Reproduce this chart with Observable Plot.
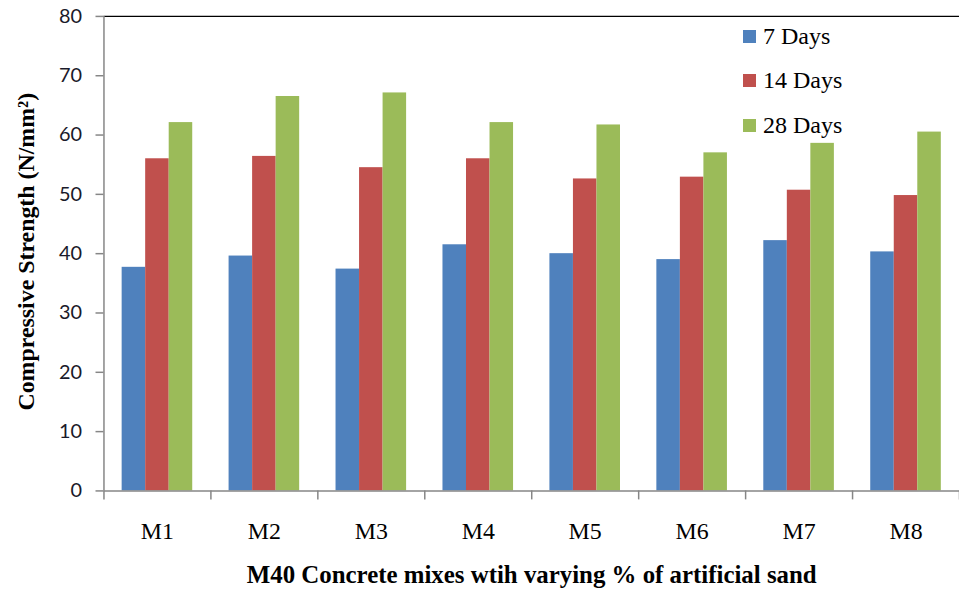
<!DOCTYPE html>
<html>
<head>
<meta charset="utf-8">
<script src="https://cdn.jsdelivr.net/npm/d3@7"></script>
<script src="https://cdn.jsdelivr.net/npm/@observablehq/plot@0.6"></script>
<style>
html, body { margin: 0; padding: 0; background: #fff; overflow: hidden; width: 959px; height: 592px; }
#wrap { position: relative; width: 959px; height: 592px; overflow: hidden; }
#wrap svg { display: block; }
#legend { position: absolute; left: 743px; top: 14px; font-family: "Liberation Serif", "Times New Roman", serif; font-size: 24px; color: #000; }
#legend .row { display: flex; align-items: center; height: 44.5px; }
#legend .sw { width: 13px; height: 13px; margin-right: 7px; flex: none; }
</style>
</head>
<body>
<div id="wrap"></div>
<script>
// ---- data ----
const categories = ["M1", "M2", "M3", "M4", "M5", "M6", "M7", "M8"];
const series = ["7 Days", "14 Days", "28 Days"];
const days7  = [37.7, 39.6, 37.4, 41.5, 40.0, 39.0, 42.2, 40.3];
const days14 = [56.0, 56.4, 54.5, 56.0, 52.6, 52.9, 50.7, 49.8];
const days28 = [62.1, 66.5, 67.1, 62.1, 61.7, 57.0, 58.6, 60.5];
const colors = ["#4F81BD", "#C0504D", "#9BBB59"];
const yTicks = [0, 10, 20, 30, 40, 50, 60, 70, 80];
const yTitle = "Compressive Strength (N/mm²)";
const xTitle = "M40 Concrete mixes wtih varying % of artificial sand";

// ---- table ----
const values = [days7, days14, days28];
const rows = [];
categories.forEach((c, i) => series.forEach((s, k) => rows.push({ cat: c, i, s, k, v: values[k][i] })));

const gap = 0.34;                 // share of each category slot left empty
const barW = (1 - gap) / series.length;
const boundaries = d3.range(categories.length + 1);
const axisGrey = "#868686";
const serif = "'Liberation Serif', 'Times New Roman', serif";

const plot = Plot.plot({
  width: 964,
  height: 592,
  marginLeft: 104,
  marginRight: 0,
  marginTop: 16,
  marginBottom: 99,
  x: { type: "linear", domain: [0, categories.length], axis: null },
  y: { domain: [0, 80], axis: null },
  color: { domain: series, range: colors },
  style: { background: "#fff", overflow: "visible" },
  marks: [
    Plot.rectY(rows, {
      x1: d => d.i + gap / 2 + d.k * barW,
      x2: d => d.i + gap / 2 + (d.k + 1) * barW,
      y1: 0,
      y2: "v",
      fill: "s"
    }),
    Plot.ruleY([80], { stroke: "#000", strokeWidth: 1.2 }),
    Plot.ruleY([0], { stroke: axisGrey, strokeWidth: 1.5 }),
    Plot.ruleX([0], { stroke: axisGrey, strokeWidth: 1.5 }),
    Plot.axisY({
      ticks: yTicks,
      tickSize: 8,
      tickPadding: 14,
      stroke: axisGrey,
      strokeWidth: 1.5,
      fill: "#1a1a2a",
      fontFamily: "Lato, 'Liberation Sans', sans-serif",
      fontSize: 20,
      label: null
    }),
    Plot.axisX({
      ticks: boundaries,
      tickSize: 9,
      tickFormat: () => "",
      stroke: axisGrey,
      strokeWidth: 1.5,
      label: null
    }),
    Plot.text(categories, {
      x: (d, i) => i + 0.5,
      y: 0,
      text: d => d,
      dy: 41,
      lineAnchor: "middle",
      fontFamily: serif,
      fontSize: 24,
      fill: "#000"
    }),
    Plot.text([yTitle], {
      frameAnchor: "left",
      textAnchor: "middle",
      lineAnchor: "middle",
      text: d => d,
      rotate: -90,
      dx: -78,
      dy: -2,
      fontFamily: serif,
      fontWeight: "bold",
      fontSize: 24,
      fill: "#000"
    }),
    Plot.text([xTitle], {
      frameAnchor: "bottom",
      textAnchor: "middle",
      lineAnchor: "middle",
      text: d => d,
      dy: 85,
      fontFamily: serif,
      fontWeight: "bold",
      fontSize: 25,
      fill: "#000"
    })
  ]
});

const wrap = document.getElementById("wrap");
wrap.appendChild(plot);

// legend (overlaid inside the plot area, top right)
const legend = document.createElement("div");
legend.id = "legend";
series.forEach((s, k) => {
  const row = document.createElement("div");
  row.className = "row";
  const sw = document.createElement("span");
  sw.className = "sw";
  sw.style.background = colors[k];
  const label = document.createElement("span");
  label.textContent = s;
  row.appendChild(sw);
  row.appendChild(label);
  legend.appendChild(row);
});
wrap.appendChild(legend);
</script>
</body>
</html>
